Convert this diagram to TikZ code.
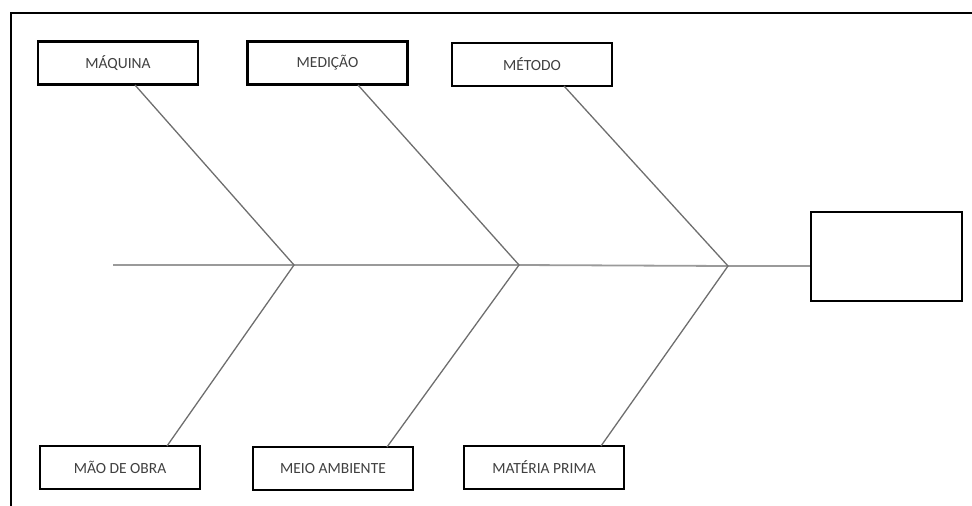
\documentclass[tikz,border=0pt]{standalone}
\usepackage{fontspec}
\setmainfont{Carlito}
\definecolor{txt}{HTML}{404040}
\definecolor{bone}{HTML}{6E6E6E}
\definecolor{spinec}{HTML}{9A9A9A}
\begin{document}
\begin{tikzpicture}[x=1pt,y=-1pt,
  cause/.style={draw=black,line width=2.4pt,minimum width=160pt,minimum height=43pt,inner sep=0pt,
    font=\fontsize{15.5}{17}\selectfont,text=txt},
  bonel/.style={draw=bone,line width=1.3pt},
  spinel/.style={draw=spinec,line width=1.8pt}]
\useasboundingbox (0,0) rectangle (972,506);
% frame
\draw[line width=2pt] (11,506) -- (11,13) -- (972,13);
% top boxes
\node[cause] (maq) at (118,63) {MÁQUINA};
\node[cause] (med) at (327.5,63) {MEDIÇÃO};
\node[cause] (met) at (532,64.5) {MÉTODO};
% bottom boxes
\node[cause] (mao) at (120,467.5) {MÃO DE OBRA};
\node[cause] (mei) at (333,468.5) {MEIO AMBIENTE};
\node[cause] (mat) at (544,467.5) {MATÉRIA PRIMA};
% effect box
\node[draw=black,line width=2.4pt,minimum width=151pt,minimum height=89pt,inner sep=0pt] (eff) at (886.5,256.5) {};
% junctions
\coordinate (j1) at (294,265);
\coordinate (j2) at (519,265);
\coordinate (j3) at (728,266);
\coordinate (tail) at (113,265);
\coordinate (m1) at (135,85);
\coordinate (m2) at (358,85);
\coordinate (m3) at (564,86);
\coordinate (b1) at (167,446);
\coordinate (b2) at (387,447);
\coordinate (b3) at (601,446);
% spine
\draw[spinel] (tail) -- (j1) -- (j2) -- (j3) -- (eff.west |- j3);
% bones
\draw[bonel] (m1) -- (j1) -- (b1);
\draw[bonel] (m2) -- (j2) -- (b2);
\draw[bonel] (m3) -- (j3) -- (b3);
\end{tikzpicture}
\end{document}
